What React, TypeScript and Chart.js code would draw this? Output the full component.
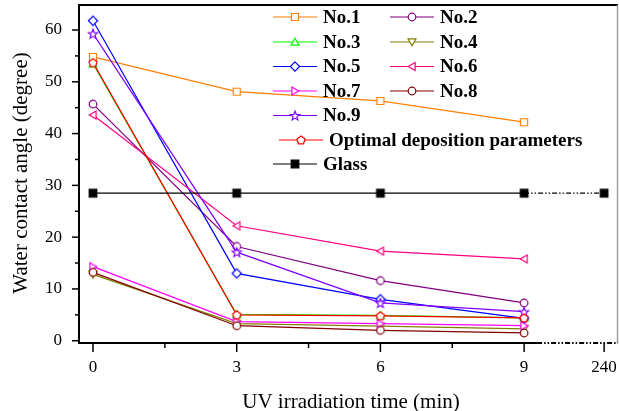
import React, { useEffect, useRef } from 'react';
import { Chart, registerables } from 'chart.js';

Chart.register(...registerables);

// ---------- data ----------
const times = [0, 3, 6, 9];
const glassTimes = [0, 3, 6, 9, 240];
const xTickValues = [0, 3, 6, 9, 240];
const yTickValues = [0, 10, 20, 30, 40, 50, 60];

const no1 = [54.8, 48.1, 46.3, 42.2];
const no2 = [45.7, 18.2, 11.6, 7.3];
const no3 = [53.5, 5.1, 4.9, 4.4];
const no4 = [12.8, 3.3, 2.8, 2.3];
const no5 = [61.8, 13.0, 8.0, 4.3];
const no6 = [43.6, 22.2, 17.3, 15.8];
const no7 = [14.3, 3.7, 3.3, 2.9];
const no8 = [13.2, 2.9, 2.0, 1.5];
const no9 = [59.3, 17.1, 7.3, 5.6];
const optimal = [53.7, 5.0, 4.8, 4.4];
const glass = [28.5, 28.5, 28.5, 28.5, 28.5];

const xTitle = 'UV irradiation time (min)';
const yTitle = 'Water contact angle (degree)';

// broken axis: 240 min is drawn just after 9 min
const BREAK_POS = 10.67;
const toAxis = (t: number) => (t <= 9 ? t : BREAK_POS);

const FONT = "'Times New Roman', 'Liberation Serif', serif";

type Shape =
  | 'square'
  | 'circle'
  | 'triUp'
  | 'triDown'
  | 'triLeft'
  | 'triRight'
  | 'diamond'
  | 'star'
  | 'pentagon'
  | 'filledSquare';

interface Series {
  label: string;
  data: number[];
  color: string;
  shape: Shape;
  t: number[];
}

const series: Series[] = [
  { label: 'No.1', data: no1, color: '#FF7F00', shape: 'square', t: times },
  { label: 'No.2', data: no2, color: '#800080', shape: 'circle', t: times },
  { label: 'No.3', data: no3, color: '#00FF00', shape: 'triUp', t: times },
  { label: 'No.4', data: no4, color: '#808000', shape: 'triDown', t: times },
  { label: 'No.5', data: no5, color: '#0000FF', shape: 'diamond', t: times },
  { label: 'No.6', data: no6, color: '#FF0080', shape: 'triLeft', t: times },
  { label: 'No.7', data: no7, color: '#FF00FF', shape: 'triRight', t: times },
  { label: 'No.8', data: no8, color: '#800000', shape: 'circle', t: times },
  { label: 'No.9', data: no9, color: '#8000FF', shape: 'star', t: times },
  { label: 'Optimal deposition parameters', data: optimal, color: '#FF0000', shape: 'pentagon', t: times },
  { label: 'Glass', data: glass, color: '#000000', shape: 'filledSquare', t: glassTimes },
];

// ---------- markers ----------
function polyPath(ctx: CanvasRenderingContext2D, x: number, y: number, r: number, startDeg: number, n: number) {
  for (let i = 0; i < n; i++) {
    const a = ((startDeg + (360 / n) * i) * Math.PI) / 180;
    const px = x + r * Math.cos(a);
    const py = y + r * Math.sin(a);
    if (i === 0) ctx.moveTo(px, py);
    else ctx.lineTo(px, py);
  }
}

function drawMarker(ctx: CanvasRenderingContext2D, shape: Shape, x: number, y: number, color: string) {
  ctx.save();
  ctx.lineWidth = 1.2;
  ctx.strokeStyle = color;
  ctx.fillStyle = '#ffffff';
  ctx.setLineDash([]);
  ctx.beginPath();
  switch (shape) {
    case 'square':
      ctx.rect(x - 3.5, y - 3.5, 7, 7);
      break;
    case 'filledSquare':
      ctx.fillStyle = color;
      ctx.rect(x - 3.8, y - 3.8, 7.6, 7.6);
      break;
    case 'circle':
      ctx.arc(x, y, 3.8, 0, Math.PI * 2);
      break;
    case 'triUp':
      polyPath(ctx, x, y + 0.8, 4.6, -90, 3);
      break;
    case 'triDown':
      polyPath(ctx, x, y - 0.8, 4.6, 90, 3);
      break;
    case 'triLeft':
      polyPath(ctx, x + 0.8, y, 4.6, 180, 3);
      break;
    case 'triRight':
      polyPath(ctx, x - 0.8, y, 4.6, 0, 3);
      break;
    case 'diamond':
      polyPath(ctx, x, y, 4.6, -90, 4);
      break;
    case 'pentagon':
      polyPath(ctx, x, y + 0.3, 4.3, -90, 5);
      break;
    case 'star':
      for (let i = 0; i < 10; i++) {
        const r = i % 2 === 0 ? 4.9 : 2.1;
        const a = ((-90 + 36 * i) * Math.PI) / 180;
        const px = x + r * Math.cos(a);
        const py = y + 0.5 + r * Math.sin(a);
        if (i === 0) ctx.moveTo(px, py);
        else ctx.lineTo(px, py);
      }
      break;
  }
  ctx.closePath();
  ctx.fill();
  ctx.stroke();
  ctx.restore();
}

function markerCanvas(shape: Shape, color: string): HTMLCanvasElement {
  const c = document.createElement('canvas');
  c.width = 14;
  c.height = 14;
  const ctx = c.getContext('2d')!;
  drawMarker(ctx, shape, 7, 7, color);
  return c;
}

function line(ctx: CanvasRenderingContext2D, x1: number, y1: number, x2: number, y2: number) {
  ctx.beginPath();
  ctx.moveTo(x1, y1);
  ctx.lineTo(x2, y2);
  ctx.stroke();
}

const DASH_DOT_DOT = [5, 2, 1.5, 2, 1.5, 2];

// ---------- plugins ----------
const framePlugin = {
  id: 'frame',
  beforeDatasetsDraw(chart: any) {
    const { ctx, chartArea: a, scales } = chart;
    const xs = scales.x;
    const ys = scales.y;
    ctx.save();
    ctx.lineCap = 'butt';
    // top border
    ctx.strokeStyle = '#000';
    ctx.lineWidth = 2;
    line(ctx, a.left, a.top, a.right, a.top);
    // right border
    ctx.strokeStyle = '#a0a0a0';
    ctx.lineWidth = 1.5;
    line(ctx, a.right - 0.5, a.top, a.right - 0.5, a.bottom);
    // y axis
    ctx.strokeStyle = '#000';
    ctx.lineWidth = 2;
    line(ctx, a.left, a.top - 1, a.left, a.bottom + 1);
    // x axis (solid, then broken part)
    const breakX = xs.getPixelForValue(9) + 13;
    line(ctx, a.left - 1, a.bottom, breakX, a.bottom);
    ctx.setLineDash(DASH_DOT_DOT);
    line(ctx, breakX, a.bottom, a.right, a.bottom);
    ctx.setLineDash([]);

    // ticks
    ctx.lineWidth = 1.5;
    yTickValues.forEach((v, i) => {
      const py = ys.getPixelForValue(v);
      line(ctx, a.left - 7, py, a.left, py);
      if (i < yTickValues.length - 1) {
        const pm = ys.getPixelForValue((v + yTickValues[i + 1]) / 2);
        line(ctx, a.left - 4, pm, a.left, pm);
      }
    });
    xTickValues.forEach((t, i) => {
      const px = xs.getPixelForValue(toAxis(t));
      line(ctx, px, a.bottom, px, a.bottom + 9);
      if (i < 3) {
        const pm = xs.getPixelForValue((t + xTickValues[i + 1]) / 2);
        line(ctx, pm, a.bottom, pm, a.bottom + 5);
      }
    });

    // axis titles
    ctx.fillStyle = '#000';
    ctx.font = `21px ${FONT}`;
    ctx.textAlign = 'center';
    ctx.textBaseline = 'middle';
    ctx.fillText(xTitle, 351, 402);
    ctx.translate(21, 173);
    ctx.rotate(-Math.PI / 2);
    ctx.fillText(yTitle, 0, 0);
    ctx.restore();
  },
};

const legendLayout = [
  { x: 273, y: 17 },
  { x: 390, y: 17 },
  { x: 273, y: 42 },
  { x: 390, y: 42 },
  { x: 273, y: 66.5 },
  { x: 390, y: 66.5 },
  { x: 273, y: 91 },
  { x: 390, y: 91 },
  { x: 273, y: 115.5 },
  { x: 279, y: 140 },
  { x: 273, y: 164 },
];

const legendPlugin = {
  id: 'customLegend',
  afterDraw(chart: any) {
    const { ctx } = chart;
    ctx.save();
    ctx.font = `bold 19px ${FONT}`;
    ctx.textAlign = 'left';
    ctx.textBaseline = 'middle';
    series.forEach((s, i) => {
      const p = legendLayout[i];
      ctx.strokeStyle = s.color;
      ctx.lineWidth = 1.2;
      ctx.setLineDash([]);
      line(ctx, p.x, p.y, p.x + 44, p.y);
      drawMarker(ctx, s.shape, p.x + 22, p.y, s.color);
      ctx.fillStyle = '#000';
      ctx.fillText(s.label, p.x + 50, p.y + 1);
    });
    ctx.restore();
  },
};

const zeroPadding = (s: any) => {
  s.paddingTop = 0;
  s.paddingBottom = 0;
  s.paddingLeft = 0;
  s.paddingRight = 0;
};

export default function App() {
  const ref = useRef<HTMLCanvasElement | null>(null);

  useEffect(() => {
    if (!ref.current) return;
    const datasets = series.map((s, i) => ({
      label: s.label,
      data: s.t.map((t, k) => ({ x: toAxis(t), y: s.data[k] })),
      borderColor: s.color,
      backgroundColor: s.color,
      borderWidth: 1.2,
      pointStyle: markerCanvas(s.shape, s.color),
      pointRadius: 5,
      pointHoverRadius: 5,
      tension: 0,
      fill: false,
      order: -i,
      clip: false as any,
      segment:
        s.label === 'Glass'
          ? { borderDash: (c: any) => (c.p1DataIndex === 4 ? DASH_DOT_DOT : undefined) }
          : undefined,
    }));

    const chart = new Chart(ref.current, {
      type: 'line',
      data: { datasets },
      options: {
        animation: false,
        responsive: false,
        devicePixelRatio: 1,
        layout: { autoPadding: false, padding: { top: 5, right: 1, left: 0, bottom: 0 } },
        plugins: { legend: { display: false }, tooltip: { enabled: false } },
        scales: {
          x: {
            type: 'linear',
            min: -0.292,
            max: 10.96,
            afterBuildTicks: (s: any) => {
              s.ticks = xTickValues.map((t) => ({ value: toAxis(t) }));
            },
            afterFit: (s: any) => {
              s.height = 68;
              zeroPadding(s);
            },
            ticks: {
              autoSkip: false,
              maxRotation: 0,
              padding: 5,
              color: '#000',
              font: { family: FONT, size: 17 },
              callback: (_v: any, i: number) => String(xTickValues[i]),
            },
            grid: { display: true, drawOnChartArea: false, drawTicks: true, tickLength: 9, color: 'rgba(0,0,0,0)' },
            border: { display: false },
          },
          y: {
            type: 'linear',
            min: -0.44,
            max: 64.83,
            afterBuildTicks: (s: any) => {
              s.ticks = yTickValues.map((v) => ({ value: v }));
            },
            afterFit: (s: any) => {
              s.width = 79;
              zeroPadding(s);
            },
            ticks: {
              padding: 10,
              color: '#000',
              font: { family: FONT, size: 17 },
              callback: (v: any) => String(v),
            },
            grid: { display: true, drawOnChartArea: false, drawTicks: true, tickLength: 7, color: 'rgba(0,0,0,0)' },
            border: { display: false },
          },
        },
      },
      plugins: [framePlugin, legendPlugin],
    } as any);

    return () => chart.destroy();
  }, []);

  return (
    <div style={{ position: 'fixed', left: 0, top: 0, width: 619, height: 411, background: '#fff' }}>
      <canvas ref={ref} width={619} height={411} style={{ display: 'block' }} />
    </div>
  );
}
